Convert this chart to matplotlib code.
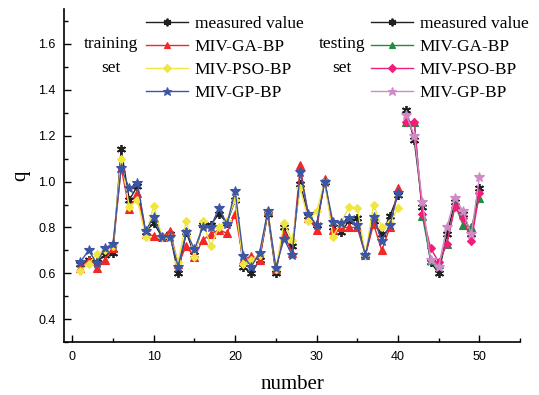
import matplotlib
matplotlib.use("Agg")
import matplotlib.pyplot as plt
from matplotlib.ticker import MultipleLocator

# training set: samples 1-40, testing set: samples 41-50
train_x = list(range(1, 41))
test_x = list(range(41, 51))

train_measured = [0.64, 0.66, 0.65, 0.68, 0.69, 1.14, 0.92, 0.98, 0.78, 0.82,
                  0.76, 0.77, 0.60, 0.78, 0.68, 0.81, 0.81, 0.86, 0.82, 0.92,
                  0.63, 0.60, 0.66, 0.86, 0.60, 0.80, 0.72, 0.99, 0.85, 0.81,
                  1.00, 0.80, 0.78, 0.83, 0.84, 0.68, 0.83, 0.77, 0.85, 0.94]
train_ga = [0.625, 0.66, 0.625, 0.66, 0.71, 1.06, 0.88, 0.95, 0.77, 0.765,
            0.76, 0.785, 0.64, 0.72, 0.67, 0.745, 0.77, 0.79, 0.775, 0.86,
            0.66, 0.675, 0.66, 0.87, 0.62, 0.77, 0.69, 1.07, 0.84, 0.79,
            1.01, 0.79, 0.80, 0.80, 0.80, 0.68, 0.815, 0.70, 0.80, 0.97]
train_pso = [0.61, 0.64, 0.685, 0.70, 0.72, 1.10, 0.89, 0.92, 0.76, 0.895,
             0.76, 0.76, 0.65, 0.83, 0.67, 0.83, 0.72, 0.80, 0.83, 0.92,
             0.64, 0.66, 0.68, 0.87, 0.62, 0.82, 0.745, 0.97, 0.83, 0.87,
             1.00, 0.76, 0.82, 0.89, 0.885, 0.68, 0.90, 0.80, 0.82, 0.885]
train_gp = [0.65, 0.70, 0.645, 0.71, 0.73, 1.06, 0.97, 0.995, 0.785, 0.845,
            0.76, 0.76, 0.63, 0.78, 0.705, 0.80, 0.80, 0.885, 0.815, 0.96,
            0.675, 0.63, 0.69, 0.87, 0.625, 0.75, 0.68, 1.04, 0.86, 0.81,
            1.00, 0.825, 0.82, 0.84, 0.81, 0.68, 0.845, 0.74, 0.81, 0.95]

test_measured = [1.31, 1.18, 0.89, 0.65, 0.60, 0.77, 0.91, 0.86, 0.77, 0.97]
test_ga = [1.26, 1.26, 0.85, 0.66, 0.64, 0.73, 0.90, 0.81, 0.80, 0.93]
test_pso = [1.26, 1.26, 0.86, 0.71, 0.65, 0.73, 0.89, 0.84, 0.74, 0.95]
test_gp = [1.29, 1.20, 0.91, 0.66, 0.63, 0.80, 0.93, 0.87, 0.77, 1.02]

labels = ["measured value", "MIV-GA-BP", "MIV-PSO-BP", "MIV-GP-BP"]

# (colour, marker, markersize)
train_styles = [("#202020", (6, 2, 0), 6.5),
                ("#f02828", "^", 5.5),
                ("#f0e640", "D", 4.5),
                ("#3c55a5", "*", 7.5)]
test_styles = [("#202020", (6, 2, 0), 6.5),
               ("#228b3c", "^", 5.5),
               ("#f01e78", "D", 4.5),
               ("#d08ac8", "*", 7.5)]

serif = "Liberation Serif"
sans = "Liberation Sans"

fig = plt.figure(figsize=(5.39, 3.95), dpi=100)
ax = fig.add_axes([0.119, 0.1334, 0.846, 0.843])


def draw_set(xs, series, styles):
    handles = []
    for y, (c, m, ms), lab in zip(series, styles, labels):
        h, = ax.plot(xs, y, color=c, marker=m, ms=ms, lw=1.0,
                     mew=1.3 if m == (6, 2, 0) else 0.8, mec=c, mfc=c, label=lab)
        handles.append(h)
    return handles


train_handles = draw_set(train_x, [train_measured, train_ga, train_pso, train_gp], train_styles)
test_handles = draw_set(test_x, [test_measured, test_ga, test_pso, test_gp], test_styles)

ax.set_xlim(-1, 55)
ax.set_ylim(0.3, 1.75)
ax.xaxis.set_major_locator(MultipleLocator(10))
ax.xaxis.set_minor_locator(MultipleLocator(5))
ax.yaxis.set_minor_locator(MultipleLocator(0.1))
ax.set_yticks([0.4, 0.6, 0.8, 1.0, 1.2, 1.4, 1.6])
ax.tick_params(which="both", direction="in", width=1.0, labelsize=9)
ax.tick_params(which="major", length=5, pad=6)
ax.tick_params(which="minor", length=3)
for t in ax.get_xticklabels() + ax.get_yticklabels():
    t.set_fontfamily(sans)
ax.spines["top"].set_visible(False)
ax.spines["right"].set_visible(False)
ax.spines["left"].set_linewidth(1.2)
ax.spines["bottom"].set_linewidth(1.2)

ax.set_xlabel("number", fontfamily=serif, fontsize=15, labelpad=9)
ax.set_ylabel("q", fontfamily=serif, fontsize=15, labelpad=6)

leg_kw = dict(loc="upper left", frameon=False, borderpad=0, borderaxespad=0,
              handlelength=2.4, handletextpad=0.4, labelspacing=0.40,
              markerscale=0.85, prop={"family": serif, "size": 12.5})
fig.legend(handles=train_handles, bbox_to_anchor=(146 / 539, 1 - 16 / 395), **leg_kw)
fig.legend(handles=test_handles, bbox_to_anchor=(371 / 539, 1 - 16 / 395), **leg_kw)

fig.text(111 / 539, 1 - 56 / 395, "training\nset", ha="center", va="center",
         fontfamily=serif, fontsize=12.5, linespacing=1.6)
fig.text(342 / 539, 1 - 56 / 395, "testing\nset", ha="center", va="center",
         fontfamily=serif, fontsize=12.5, linespacing=1.6)

fig.savefig("out.png", dpi=100)
